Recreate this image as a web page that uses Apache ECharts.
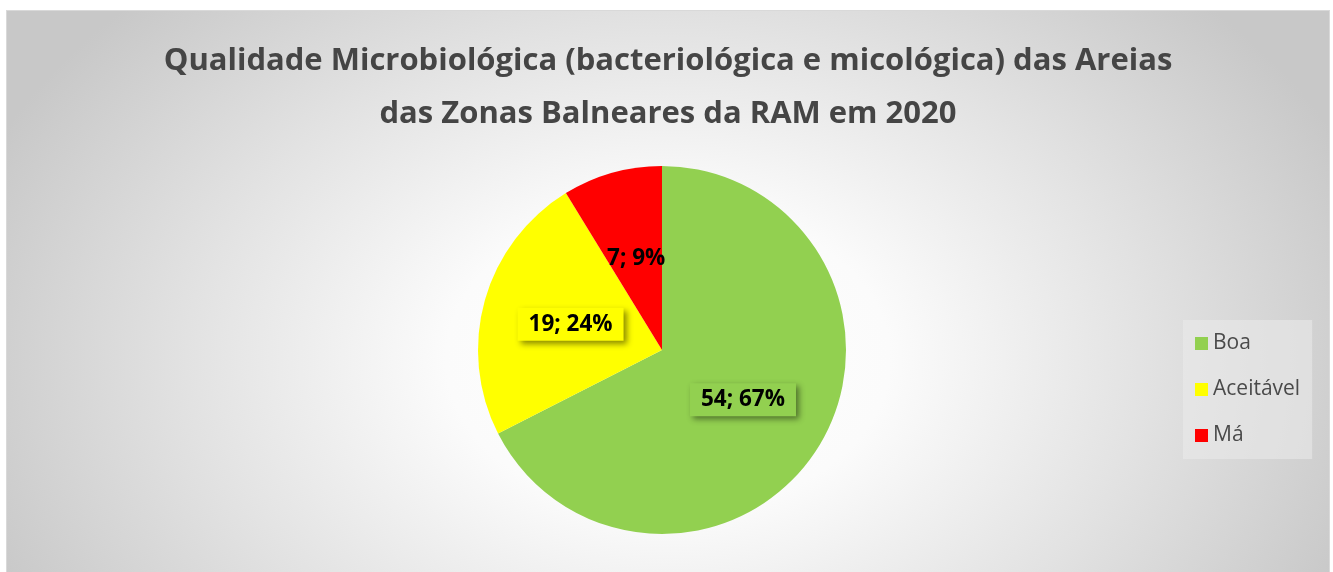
<!DOCTYPE html>
<html>
  <head>
    <meta charset="utf-8">
    <title>Qualidade Microbiológica das Areias</title>
    <script src="https://cdn.jsdelivr.net/npm/echarts@6/dist/echarts.min.js" charset="utf-8"></script>
    <style media="screen">
      body{
        margin: 0;
        background: #fff;
      }
      .chart-box{
        position: absolute;
        left: 6px;
        top: 10px;
        width: 1324px;
        height: 562px;
        box-sizing: border-box;
        border: 1px solid #d9d9d9;
        border-bottom: none;
        background: radial-gradient(ellipse 56% 92% at 50% 62%, #ffffff 0%, #fbfbfb 30%, #e2e2e2 65%, #c8c8c8 100%);
      }
    </style>
  </head>
  <body>
    <div class="chart-box">
      <div id="main" style="width: 1322px;height:561px;"></div>
    </div>
    <script type="text/javascript">
      var categorias = ['Boa', 'Aceitável', 'Má'];
      var valores = [54, 19, 7];
      var cores = ['#92d050', '#ffff00', '#ff0000'];

      var dados = [];
      for (var i = 0; i < categorias.length; i++) {
        dados.push({
          name: categorias[i],
          value: valores[i],
          itemStyle: { color: cores[i] }
        });
      }
      // o rótulo da fatia pequena fica sobre duas cores: sem fundo
      dados[2].label = { backgroundColor: 'transparent', padding: [10, 11, 0, 11] };

      var myChart = echarts.init(document.getElementById('main'));
      var option = {
        backgroundColor: 'transparent',
        title: {
          text: 'Qualidade Microbiológica (bacteriológica e micológica) das Areias\ndas Zonas Balneares da RAM em 2020',
          left: 'center',
          top: 19,
          textStyle: {
            fontFamily: 'Open Sans',
            fontWeight: 'bold',
            fontSize: 31,
            lineHeight: 53,
            color: '#454545'
          }
        },
        legend: {
          orient: 'vertical',
          left: 1176,
          top: 309,
          padding: [13, 12, 13, 12],
          itemGap: 25,
          itemWidth: 13,
          itemHeight: 13,
          icon: 'rect',
          backgroundColor: 'rgba(235,235,235,0.55)',
          textStyle: {
            fontFamily: 'Open Sans',
            fontSize: 21,
            lineHeight: 20,
            color: '#4a4a4a'
          },
          data: categorias
        },
        series: [{
          type: 'pie',
          center: [655, 339],
          radius: 184,
          startAngle: 90,
          clockwise: true,
          percentPrecision: 0,
          animation: false,
          label: {
            position: 'inside',
            formatter: '{c}; {d}%',
            fontFamily: 'Open Sans',
            fontWeight: 'bold',
            fontSize: 22.5,
            color: '#000',
            backgroundColor: 'inherit',
            padding: [6, 11, 4, 11],
            shadowColor: 'rgba(0,0,0,0.45)',
            shadowBlur: 6,
            shadowOffsetX: 3,
            shadowOffsetY: 3
          },
          labelLine: { show: false },
          emphasis: { disabled: true },
          data: dados
        }]
      };
      myChart.setOption(option);
    </script>
  </body>
</html>
